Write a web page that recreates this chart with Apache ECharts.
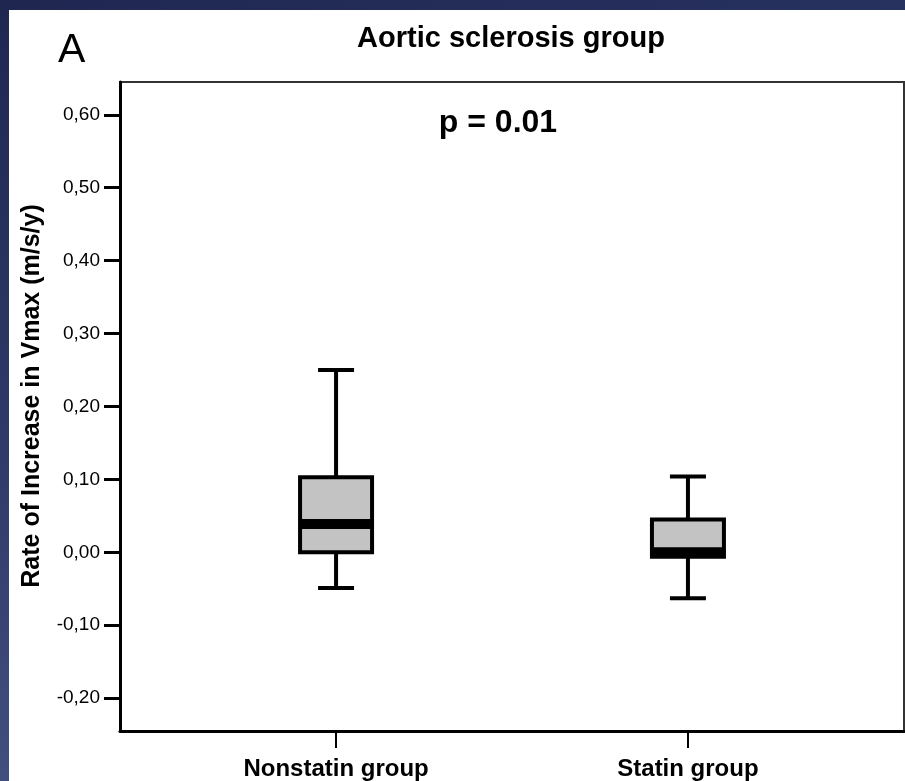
<!DOCTYPE html>
<html>
<head>
<meta charset="utf-8">
<script src="https://cdn.jsdelivr.net/npm/echarts@6/dist/echarts.min.js"></script>
<style>
  html, body {
    margin: 0;
    padding: 0;
    width: 905px;
    height: 781px;
    overflow: hidden;
    background: linear-gradient(165deg, #1f2751 0%, #2f3b69 45%, #4f5e90 100%);
  }
  #chart {
    position: absolute;
    left: 9px;
    top: 10px;
    width: 896px;
    height: 771px;
    background: #fff;
  }
</style>
</head>
<body>
<div id="chart"></div>
<script>
// box plot values (m/s/y)
const categories = ['Nonstatin group', 'Statin group']
const whiskerLow = [-0.049, -0.063]
const q1 = [0.0, -0.006]
const median = [0.039, 0.0]
const q3 = [0.103, 0.045]
const whiskerHigh = [0.25, 0.104]
const yTicks = [-0.2, -0.1, 0, 0.1, 0.2, 0.3, 0.4, 0.5, 0.6]

const boxData = categories.map((c, i) => [i, whiskerLow[i], q1[i], median[i], q3[i], whiskerHigh[i]])

const chart = echarts.init(document.getElementById('chart'))

const FONT = '"Liberation Sans", Arial, sans-serif'

const renderBox = (params, api) => {
  const x = api.value(0)
  const pMin = api.coord([x, api.value(1)])
  const pQ1 = api.coord([x, api.value(2)])
  const pMed = api.coord([x, api.value(3)])
  const pQ3 = api.coord([x, api.value(4)])
  const pMax = api.coord([x, api.value(5)])
  const cx = pQ1[0]
  const halfBox = 36
  const halfCap = 18
  const line = { stroke: '#000', lineWidth: 4 }
  return {
    type: 'group',
    children: [
      { type: 'line', shape: { x1: cx, y1: pMax[1], x2: cx, y2: pQ3[1] }, style: line },
      { type: 'line', shape: { x1: cx, y1: pQ1[1], x2: cx, y2: pMin[1] }, style: line },
      { type: 'line', shape: { x1: cx - halfCap, y1: pMax[1], x2: cx + halfCap, y2: pMax[1] }, style: line },
      { type: 'line', shape: { x1: cx - halfCap, y1: pMin[1], x2: cx + halfCap, y2: pMin[1] }, style: line },
      {
        type: 'rect',
        shape: { x: cx - halfBox, y: pQ3[1], width: halfBox * 2, height: pQ1[1] - pQ3[1] },
        style: { fill: '#c3c3c3', stroke: '#000', lineWidth: 4 }
      },
      {
        type: 'rect',
        shape: { x: cx - halfBox, y: pMed[1] - 5, width: halfBox * 2, height: 10 },
        style: { fill: '#000' }
      }
    ]
  }
}

chart.setOption({
  animation: false,
  grid: {
    left: 111,
    top: 72,
    right: 1,
    bottom: 50,
    show: true,
    borderColor: '#333',
    borderWidth: 2
  },
  xAxis: {
    type: 'value',
    min: -0.614,
    max: 1.614,
    splitLine: { show: false },
    axisLine: { show: true, onZero: false, lineStyle: { color: '#000', width: 3 } },
    axisTick: { show: true, length: 17, customValues: [0, 1], lineStyle: { color: '#000', width: 2 } },
    axisLabel: {
      customValues: [0, 1],
      margin: 26,
      color: '#000',
      fontFamily: FONT,
      fontWeight: 'bold',
      fontSize: 24,
      formatter: (v) => categories[Math.round(v)]
    }
  },
  yAxis: {
    type: 'value',
    min: -0.245,
    max: 0.645,
    splitLine: { show: false },
    axisLine: { show: true, onZero: false, lineStyle: { color: '#000', width: 3 } },
    axisTick: { show: true, length: 16, customValues: yTicks, lineStyle: { color: '#000', width: 3 } },
    axisLabel: {
      customValues: yTicks,
      margin: 20,
      color: '#000',
      fontFamily: FONT,
      fontSize: 19,
      formatter: (v) => v.toFixed(2).replace('.', ',')
    }
  },
  graphic: [
    {
      type: 'text', left: 49, top: 20,
      style: { text: 'A', font: '41px ' + FONT, fill: '#000' }
    },
    {
      type: 'text', x: 502, y: 29,
      style: { text: 'Aortic sclerosis group', font: 'bold 29px ' + FONT, fill: '#000', align: 'center', verticalAlign: 'middle' }
    },
    {
      type: 'text', x: 489, y: 113,
      style: { text: 'p = 0.01', font: 'bold 32px ' + FONT, fill: '#000', align: 'center', verticalAlign: 'middle' }
    },
    {
      type: 'text', x: 23, y: 386, rotation: Math.PI / 2,
      style: { text: 'Rate of Increase in Vmax (m/s/y)', font: 'bold 25px ' + FONT, fill: '#000', align: 'center', verticalAlign: 'middle' }
    }
  ],
  series: [
    {
      type: 'custom',
      renderItem: renderBox,
      data: boxData,
      encode: { x: 0, y: [1, 2, 3, 4, 5] },
      clip: false
    }
  ]
})

window.addEventListener('resize', () => chart.resize())
</script>
</body>
</html>
